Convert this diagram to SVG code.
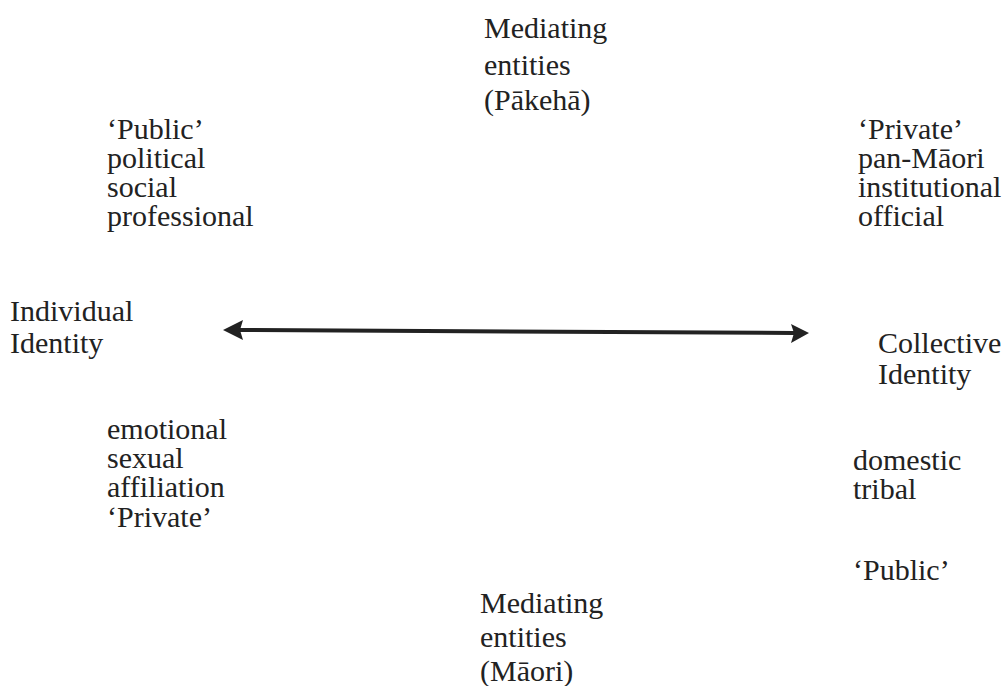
<svg xmlns="http://www.w3.org/2000/svg" width="1007" height="686" viewBox="0 0 1007 686">
<style>
text{font-family:"Liberation Serif","Times New Roman",serif;font-size:30px;fill:#222}
.conn{stroke:#222;stroke-width:4;fill:none}
.head{fill:#222}
</style>
<rect width="1007" height="686" fill="#fff"/>
<g id="connectors">
<line class="conn" x1="238" y1="330" x2="794" y2="333"/>
<polygon class="head" points="223,330 243,320 240,330 243,340"/>
<polygon class="head" points="809,333 791,324 794,333 791,343"/>
</g>
<g id="mediating-pakeha">
<text x="484" y="38">Mediating</text>
<text x="484" y="75">entities</text>
<text x="484" y="110">(Pākehā)</text>
</g>
<g id="public-left">
<text x="107" y="139">‘Public’</text>
<text x="107" y="168">political</text>
<text x="107" y="197">social</text>
<text x="107" y="226">professional</text>
</g>
<g id="private-right">
<text x="858" y="139">‘Private’</text>
<text x="858" y="168">pan-Māori</text>
<text x="858" y="197">institutional</text>
<text x="858" y="226">official</text>
</g>
<g id="individual-identity">
<text x="10" y="321">Individual</text>
<text x="10" y="353">Identity</text>
</g>
<g id="collective-identity">
<text x="878" y="353">Collective</text>
<text x="878" y="384">Identity</text>
</g>
<g id="private-left">
<text x="107" y="439">emotional</text>
<text x="107" y="468">sexual</text>
<text x="107" y="497">affiliation</text>
<text x="107" y="527">‘Private’</text>
</g>
<g id="public-right">
<text x="853" y="470">domestic</text>
<text x="853" y="499">tribal</text>
<text x="853" y="580">‘Public’</text>
</g>
<g id="mediating-maori">
<text x="480" y="613">Mediating</text>
<text x="480" y="647">entities</text>
<text x="480" y="681">(Māori)</text>
</g>
</svg>
